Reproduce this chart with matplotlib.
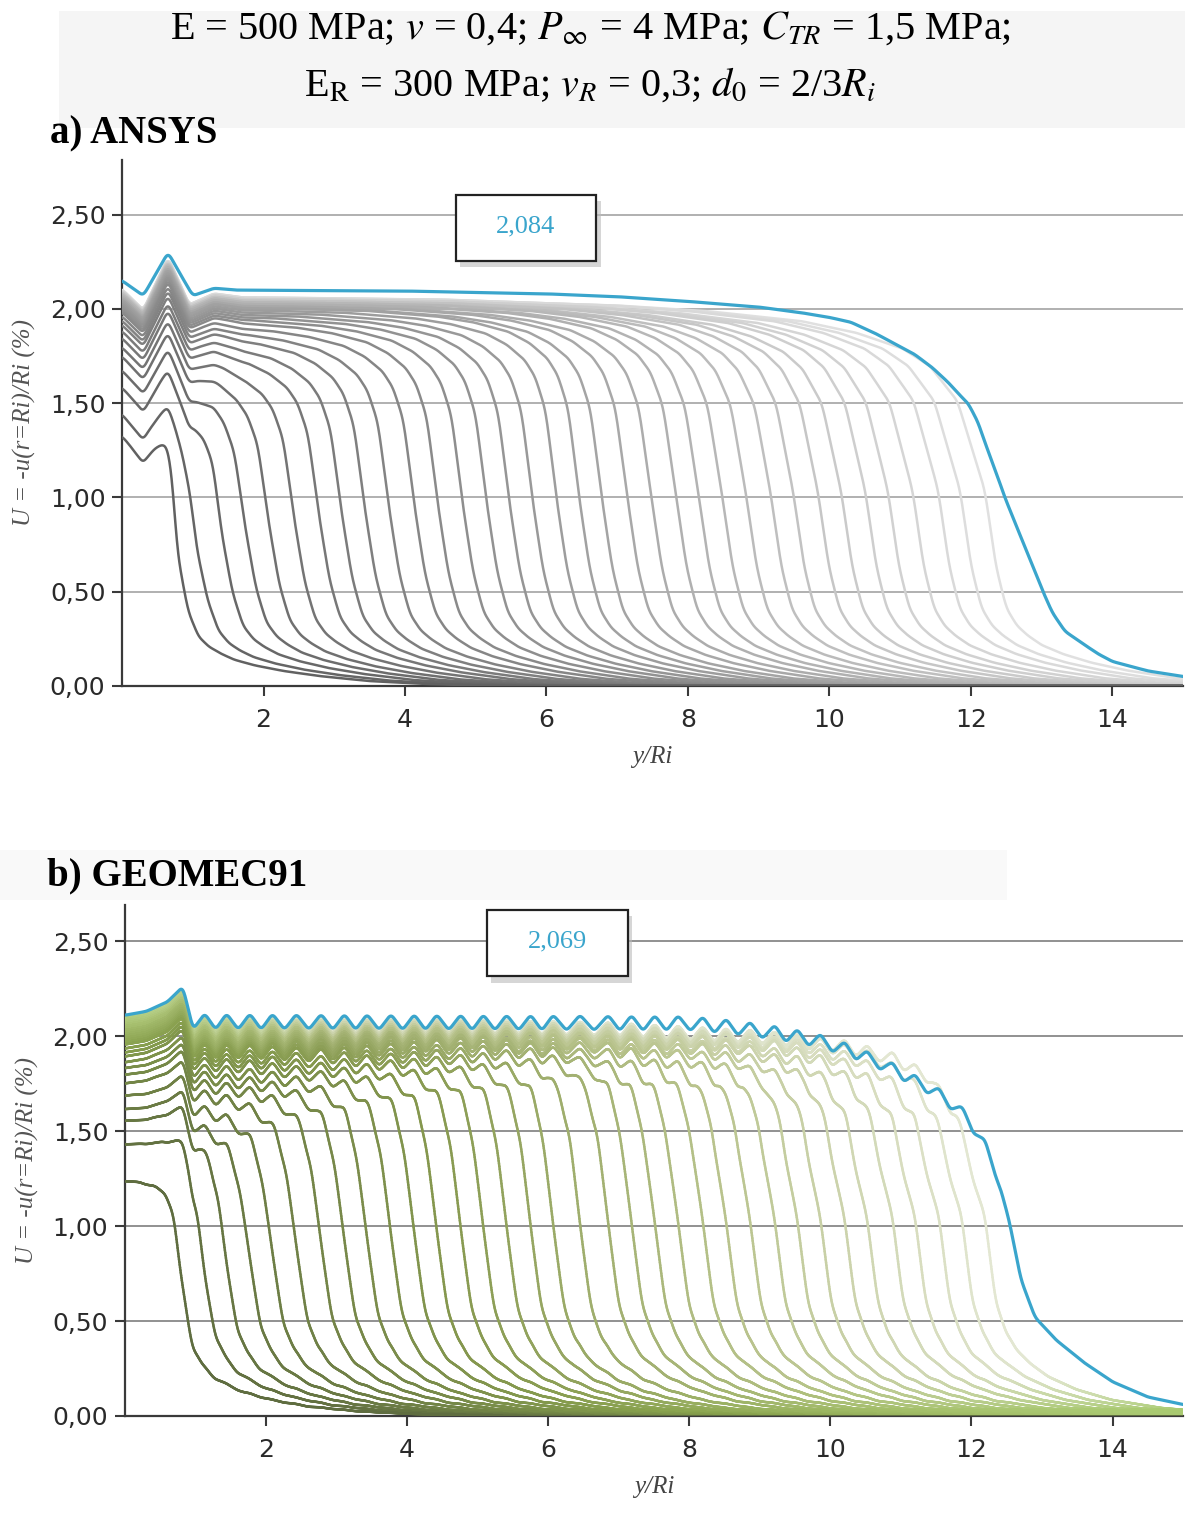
import numpy as np
import matplotlib
matplotlib.use("Agg")
import matplotlib.pyplot as plt
from matplotlib.patches import Rectangle
from matplotlib.colors import LinearSegmentedColormap, to_rgba
from matplotlib.collections import LineCollection

# ---- data ----
# y/Ri where each curve crosses U = 1,00 (one curve per excavation step)
fronts_a = [0.78, 1.06, 1.41, 1.74, 2.07, 2.43, 2.78, 3.10, 3.43, 3.77,
            4.13, 4.46, 4.81, 5.15, 5.47, 5.80, 6.14, 6.46, 6.78, 7.14,
            7.48, 7.83, 8.15, 8.48, 8.82, 9.17, 9.49, 9.84, 10.17, 10.51,
            10.83, 11.18, 11.54, 11.85, 12.20]
# plateau level of each curve (%)
levels_a = [1.33, 1.46, 1.60, 1.69, 1.75, 1.79, 1.83, 1.86, 1.89, 1.91,
            1.93, 1.95, 1.96, 1.97, 1.98, 1.99, 2.00, 2.01, 2.01, 2.02,
            2.02, 2.03, 2.03, 2.04, 2.04, 2.04, 2.05, 2.05, 2.05, 2.06,
            2.06, 2.06, 2.07, 2.07, 2.07]
# how wide the shoulder before the front is (later steps round off more)
shoulder_a = [0.45, 0.7, 0.85, 1.0, 1.0, 1.0, 1.0, 1.0, 1.0, 1.0,
              1.0, 1.0, 1.0, 1.0, 1.0, 1.0, 1.0, 1.0, 1.05, 1.1,
              1.15, 1.2, 1.27, 1.35, 1.43, 1.52, 1.62, 1.72, 1.83, 1.95,
              2.07, 2.2, 2.33, 2.45, 2.6]

fronts_b = [0.80, 1.13, 1.44, 1.77, 2.09, 2.43, 2.78, 3.11, 3.43, 3.77,
            4.10, 4.42, 4.76, 5.08, 5.41, 5.75, 6.07, 6.45, 6.85, 7.18,
            7.51, 7.84, 8.19, 8.52, 8.86, 9.21, 9.53, 9.86, 10.20, 10.52,
            10.88, 11.20, 11.54, 11.86, 12.19]
levels_b = [1.30, 1.48, 1.60, 1.66, 1.72, 1.78, 1.82, 1.85, 1.88, 1.91,
            1.93, 1.95, 1.97, 1.98, 1.99, 2.00, 2.01, 2.02, 2.03, 2.04,
            2.04, 2.05, 2.06, 2.06, 2.07, 2.07, 2.08, 2.08, 2.09, 2.09,
            2.10, 2.10, 2.10, 2.11, 2.11]
shoulder_b = [0.75, 0.75, 0.85, 1.0, 1.0, 1.0, 1.0, 1.0, 1.0, 1.0,
              1.0, 1.0, 1.0, 1.0, 1.0, 1.0, 1.0, 1.0, 1.05, 1.1,
              1.15, 1.2, 1.27, 1.35, 1.43, 1.52, 1.62, 1.72, 1.83, 1.95,
              2.07, 2.2, 2.33, 2.45, 2.6]

# near-face shape (offset from plateau level)
near_a_x = [0.0, 0.30, 0.65, 0.95, 1.30, 1.70]
near_a_dy = [0.04, -0.07, 0.21, -0.04, 0.02, 0.0]
near_b_x = [0.0, 0.30, 0.60, 0.82]
near_b_dy = [-0.01, 0.01, 0.06, 0.14]
ripple_depth_b = 0.085

# shape of the fall-off, fraction of plateau vs distance to the front
fall_a_dx = [-6, -4, -3, -2, -1.5, -1.0, -0.7, -0.45, -0.3, -0.15, 0.0,
             0.15, 0.3, 0.45, 0.6, 0.8, 1.1, 1.5, 2.0, 2.7, 3.5, 4.5]
fall_a = [1.0, 0.995, 0.99, 0.975, 0.96, 0.935, 0.905, 0.865, 0.82, 0.73, 0.50,
          0.31, 0.20, 0.155, 0.13, 0.105, 0.082, 0.06, 0.04, 0.02, 0.008, 0.0]
fall_b_dx = [-6, -3, -2, -1.2, -0.8, -0.5, -0.3, -0.15, 0.0, 0.15,
             0.3, 0.45, 0.65, 0.9, 1.3, 1.8, 2.5, 3.3, 4.5]
fall_b = [1.0, 0.995, 0.985, 0.965, 0.945, 0.91, 0.86, 0.76, 0.50, 0.30,
          0.21, 0.165, 0.13, 0.098, 0.066, 0.04, 0.02, 0.008, 0.0]

# last step (blue)
blue_a_x = [0, 0.3, 0.5, 0.65, 0.8, 1.0, 1.3, 1.6, 4.0, 6.0, 7.0, 8.0, 9.0,
            9.6, 10.0, 10.3, 10.65, 11.0, 11.2, 11.45, 11.68, 11.85, 11.96,
            12.1, 12.2, 12.35, 12.48, 12.62, 12.75, 12.9, 13.02, 13.15, 13.33,
            13.6, 13.8, 14.0, 14.5, 15.0]
blue_a_y = [2.15, 2.07, 2.20, 2.30, 2.20, 2.07, 2.11, 2.10, 2.095, 2.08, 2.065,
            2.04, 2.01, 1.98, 1.955, 1.93, 1.87, 1.80, 1.76, 1.69, 1.61, 1.54,
            1.50, 1.40, 1.29, 1.14, 1.00, 0.87, 0.75, 0.61, 0.50, 0.39, 0.29,
            0.22, 0.17, 0.13, 0.08, 0.05]
blue_b_front = 12.53
blue_b_x = [0, 1.0, 8.0, 8.6, 9.2, 9.8, 10.3, 10.8, 11.2, 11.5, 11.9, 12.2,
            12.4, 12.55, 12.7, 12.9, 13.2, 13.6, 14.0, 14.5, 15.0]
blue_b_y = [2.12, 2.12, 2.11, 2.09, 2.06, 2.02, 1.96, 1.88, 1.80, 1.74, 1.62,
            1.45, 1.25, 1.00, 0.72, 0.52, 0.40, 0.28, 0.18, 0.10, 0.06]

labels = ["2,084", "2,069"]
yticks = [0, 0.5, 1.0, 1.5, 2.0, 2.5]
ytick_labels = ["0,00", "0,50", "1,00", "1,50", "2,00", "2,50"]
xticks = [2, 4, 6, 8, 10, 12, 14]

BLUE = "#3aa5cc"
plt.rcParams["mathtext.fontset"] = "stix"

x = np.linspace(0, 15, 3000)


def smooth(y, k=41):
    # soften the corners of the digitised outline
    w = np.hanning(k + 2)[1:-1]
    w = w / w.sum()
    yp = np.concatenate([np.full(k, y[0]), y, np.full(k, y[-1])])
    return np.convolve(yp, w, mode="same")[k:-k]


# ripple crests sit on the step positions, troughs half-way between
crests = fronts_b + [blue_b_front]
rip_x = list(near_b_x)
rip_dy = list(near_b_dy)
for c0, c1 in zip(crests[:-1], crests[1:]):
    rip_x += [(c0 + c1) / 2, c1]
    rip_dy += [-ripple_depth_b, 0.0]
ripple = np.interp(x, rip_x, rip_dy)

fig = plt.figure(figsize=(11.85, 15.18), dpi=100)

# pale header bands
fig.add_artist(Rectangle((0.05, 0.916), 0.95, 0.077, transform=fig.transFigure,
                         facecolor="#f5f5f5", edgecolor="none", zorder=0))
fig.add_artist(Rectangle((0.0, 0.407), 0.85, 0.033, transform=fig.transFigure,
                         facecolor="#f9f9f9", edgecolor="none", zorder=0))

fig.text(0.498, 0.981, r"E = 500 MPa; $v$ = 0,4; $P_{\infty}$ = 4 MPa; $C_{TR}$ = 1,5 MPa;",
         ha="center", va="center", fontsize=29, family="Liberation Serif")
fig.text(0.498, 0.944, r"E$_{\rm R}$ = 300 MPa; $v_R$ = 0,3; $d_0$ = 2/3$R_i$",
         ha="center", va="center", fontsize=29, family="Liberation Serif")
fig.text(0.042, 0.912, "a) ANSYS", ha="left", va="center", fontsize=28,
         weight="bold", family="Liberation Serif")
fig.text(0.040, 0.423, "b) GEOMEC91", ha="left", va="center", fontsize=28,
         weight="bold", family="Liberation Serif")

ax_a = fig.add_axes([0.1030, 0.5481, 0.8954, 0.3465])
ax_b = fig.add_axes([0.1055, 0.0672, 0.8929, 0.3366])

n = len(fronts_a)
grays = [str(v) for v in np.linspace(0.38, 0.88, n)]
greens = LinearSegmentedColormap.from_list(
    "g", ["#5f6d40", "#86994f", "#b7c28a", "#e3e7d2"])
green_cols = [np.array(greens(t)) for t in np.linspace(0, 1, n)]
bright = np.array(to_rgba("#8fbe45"))

# panel a curves: darker (earlier) steps drawn last
near_a = np.interp(x, near_a_x, near_a_dy)
for i in reversed(range(n)):
    d = x - fronts_a[i]
    d = np.where(d < 0, d / shoulder_a[i], d)
    g = np.interp(d, fall_a_dx, fall_a)
    y = smooth((levels_a[i] + near_a) * g, 31)
    ax_a.plot(x, y, color=grays[i], lw=1.8, zorder=3)
ax_a.plot(x, smooth(np.interp(x, blue_a_x, blue_a_y), 31), color=BLUE, lw=2.3, zorder=5)

# panel b curves: olive lines that turn bright green near the face and in the tail
for i in reversed(range(n)):
    d = x - fronts_b[i]
    d = np.where(d < 0, d / shoulder_b[i], d)
    g = np.interp(d, fall_b_dx, fall_b)
    y = smooth((levels_b[i] + ripple) * g, 27)
    t = i / (n - 1)
    w = 0.6 * t * np.clip(1 - x / 3.0, 0, 1) + 0.7 * t * np.clip((x - fronts_b[i] - 0.8) / 2.0, 0, 1)
    w = np.clip(w, 0, 0.75)
    cols = green_cols[i] * (1 - w[:, None]) + bright * w[:, None]
    pts = np.column_stack([x, y]).reshape(-1, 1, 2)
    segs = np.concatenate([pts[:-1], pts[1:]], axis=1)
    ax_b.add_collection(LineCollection(segs, colors=cols[:-1], linewidths=1.8,
                                       capstyle="round", zorder=3))
env = np.interp(x, blue_b_x, blue_b_y)
ax_b.plot(x, smooth(env * (1 + ripple / 2.12), 27), color=BLUE, lw=2.3, zorder=5)

for ax, ymax, lab, (bx, by), gcol in [(ax_a, 2.79, labels[0], (5.71, 2.43), "#b0b0b0"),
                                      (ax_b, 2.69, labels[1], (6.13, 2.49), "#909090")]:
    ax.set_xlim(0, 15)
    ax.set_ylim(0, ymax)
    ax.set_yticks(yticks)
    ax.set_yticklabels(ytick_labels)
    ax.set_xticks(xticks)
    for v in yticks[1:]:
        ax.axhline(v, color=gcol, lw=1.4, zorder=1)
    for s in ["top", "right"]:
        ax.spines[s].set_visible(False)
    ax.spines["left"].set_color("#3a3a3a")
    ax.spines["left"].set_linewidth(1.6)
    ax.spines["bottom"].set_color("#3a3a3a")
    ax.spines["bottom"].set_linewidth(1.6)
    ax.tick_params(axis="both", direction="out", length=7, width=1.5,
                   color="#3a3a3a", labelsize=18, labelcolor="#2a2a2a")
    ax.tick_params(axis="y", pad=5)
    ax.tick_params(axis="x", pad=9)
    ax.set_facecolor("none")
    ax.set_xlabel("y/Ri", fontsize=18, style="italic", family="Liberation Serif",
                  color="#444444", labelpad=10)
    ax.set_ylabel("U = -u(r=Ri)/Ri (%)", fontsize=18, style="italic",
                  family="Liberation Serif", color="#555555", labelpad=10)
    # value box with shadow
    w, h = 1.99, 0.35
    ax.add_patch(Rectangle((bx - w / 2 + 0.06, by - h / 2 - 0.035), w, h,
                           facecolor="#bbbbbb", edgecolor="none", alpha=0.6, zorder=6))
    ax.add_patch(Rectangle((bx - w / 2, by - h / 2), w, h, facecolor="white",
                           edgecolor="#222222", lw=1.6, zorder=7))
    ax.text(bx, by + 0.01, lab, ha="center", va="center", fontsize=19,
            family="Liberation Serif", color=BLUE, zorder=8)

fig.savefig("out.png", dpi=100)
